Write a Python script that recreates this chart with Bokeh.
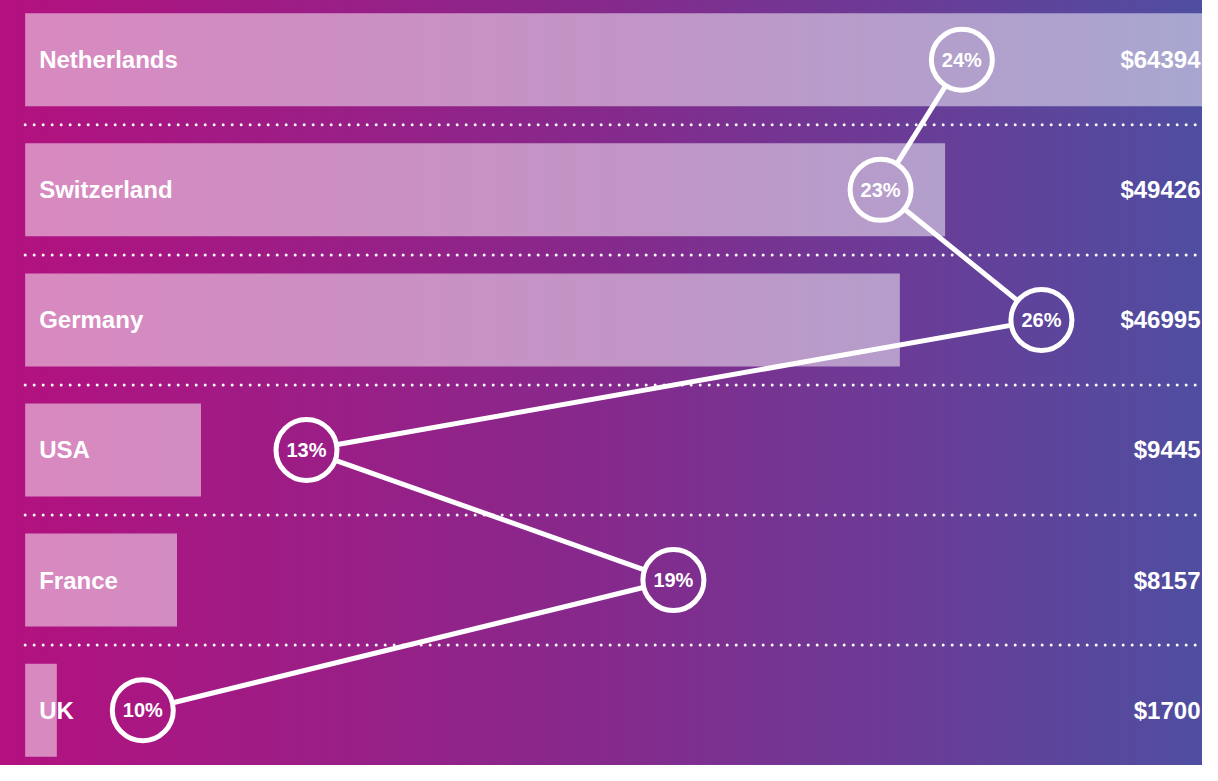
from bokeh.plotting import figure
from bokeh.models import Range1d, ColumnDataSource, LabelSet
from bokeh.core.properties import value
from bokeh.embed import file_html
from bokeh.resources import INLINE

# ---- data ----
countries = ["Netherlands", "Switzerland", "Germany", "USA", "France", "UK"]
amounts = [64394, 49426, 46995, 9445, 8157, 1700]
amount_labels = ["$64394", "$49426", "$46995", "$9445", "$8157", "$1700"]
shares = [24.32, 22.90, 25.71, 12.87, 19.28, 10.01]
share_labels = ["24%", "23%", "26%", "13%", "19%", "10%"]

W, H = 1202, 765
FONT = "Liberation Sans"

rows = list(range(len(countries)))
x_start, x_end = -1326, 63256          # amount scale
p_start, p_end = 7.524, 28.524         # share scale
y_top, y_bottom = -0.4556, 5.4255

p = figure(width=W, height=H, output_backend="svg", toolbar_location=None,
           x_range=Range1d(x_start, x_end), y_range=Range1d(y_bottom, y_top),
           x_axis_type=None, y_axis_type=None, min_border=0,
           background_fill_alpha=0, border_fill_alpha=0,
           outline_line_color=None)
p.styles = {"background": "linear-gradient(90deg, #b3117f 0%, #86298c 50%, #4f4ea1 100%)"}
p.extra_x_ranges = {"share": Range1d(p_start, p_end)}

src = ColumnDataSource(dict(country=countries, amount=amounts, amount_label=amount_labels,
                            share=shares, share_label=share_labels, row=rows,
                            zero=[0] * len(rows)))

# bars
p.hbar(y="row", left="zero", right="amount", height=0.715, source=src,
       fill_color="white", fill_alpha=0.5, line_color=None)

# dotted separators
for i in range(len(rows) - 1):
    p.segment(x0=0, y0=i + 0.5, x1=x_end, y1=i + 0.5, line_color="white",
              line_width=3, line_dash="0 9", line_cap="round")

# connecting line, trimmed at circle edges
R = 30.0
def sx(v):
    return (v - p_start) / (p_end - p_start) * W
def sy(v):
    return (v - y_top) / (y_bottom - y_top) * H
def ix(px):
    return p_start + px / W * (p_end - p_start)
def iy(py):
    return y_top + py / H * (y_bottom - y_top)

x0s, y0s, x1s, y1s = [], [], [], []
for a in range(len(rows) - 1):
    ax, ay = sx(shares[a]), sy(rows[a])
    bx, by = sx(shares[a + 1]), sy(rows[a + 1])
    dx, dy = bx - ax, by - ay
    d = (dx * dx + dy * dy) ** 0.5
    ux, uy = dx / d, dy / d
    x0s.append(ix(ax + ux * R)); y0s.append(iy(ay + uy * R))
    x1s.append(ix(bx - ux * R)); y1s.append(iy(by - uy * R))
p.segment(x0=x0s, y0=y0s, x1=x1s, y1=y1s, line_color="white", line_width=5,
          x_range_name="share")

# circles
p.scatter(x="share", y="row", source=src, size=61, marker="circle",
          fill_alpha=0, line_color="white", line_width=5, x_range_name="share")

# share labels
p.text(x="share", y="row", text="share_label", source=src, x_range_name="share",
       text_color="white", text_font=value(FONT), text_font_style="bold",
       text_font_size="20px", text_align="center", text_baseline="middle")

# country labels
p.text(x="zero", y="row", text="country", source=src, x_offset=14,
       text_color="white", text_font=value(FONT), text_font_style="bold",
       text_font_size="24px", text_align="left", text_baseline="middle")

# amount labels (right aligned at the edge)
p.add_layout(LabelSet(x=W - 2, y="row", x_units="screen", text="amount_label", source=src,
                      text_color="white", text_font=value(FONT), text_font_style="bold",
                      text_font_size="24px", text_align="right", text_baseline="middle"))

open("out.html", "w").write(file_html(p, INLINE))
